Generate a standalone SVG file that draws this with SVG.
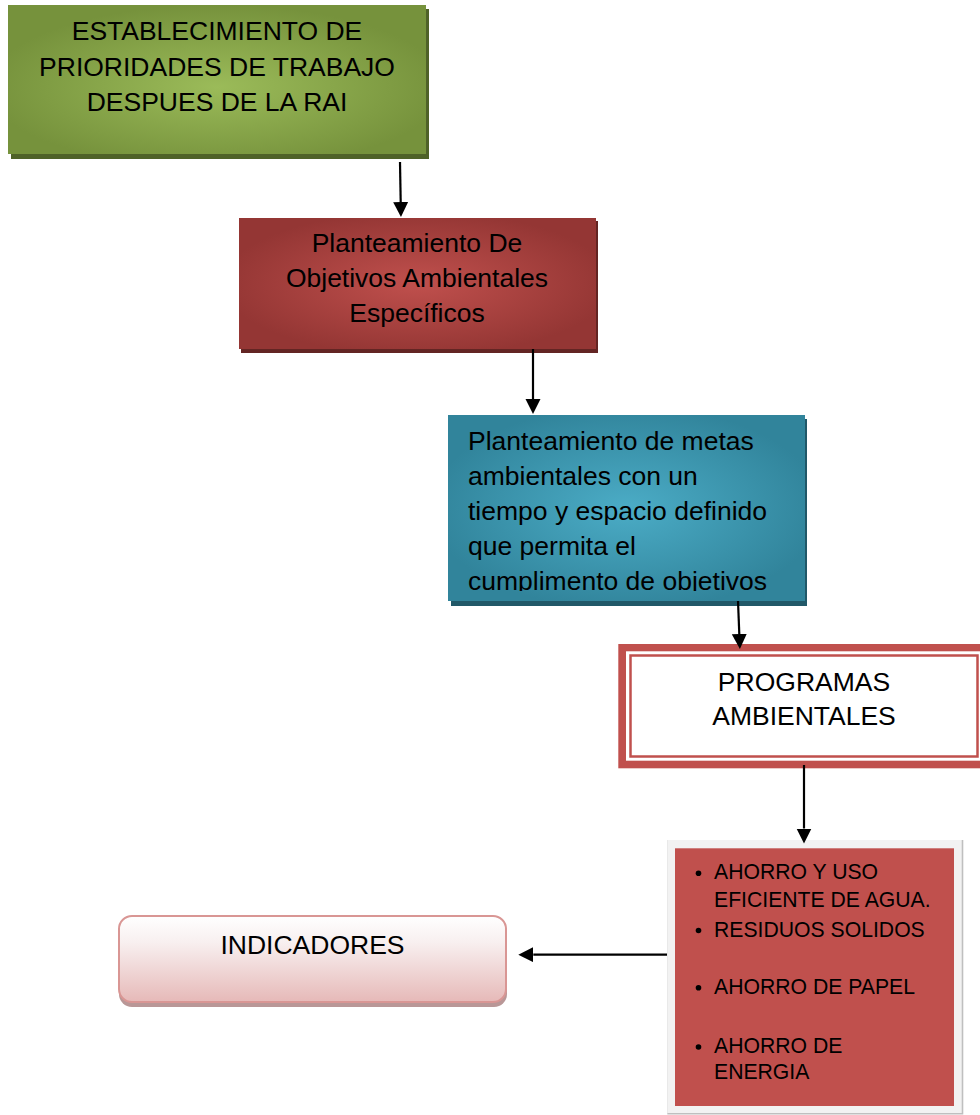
<svg xmlns="http://www.w3.org/2000/svg" width="980" height="1115" viewBox="0 0 980 1115">
  <style>
    .t { font-family: "Liberation Sans", Arial, sans-serif; font-size: 26.5px; fill: #000; }
    .tc { text-anchor: middle; }
    .b { font-family: "Liberation Sans", Arial, sans-serif; font-size: 21.2px; fill: #000; }
    .conn { stroke: #000; stroke-width: 2.2; fill: none; marker-end: url(#ah); }
  </style>
  <defs>
    <marker id="ah" markerUnits="userSpaceOnUse" markerWidth="16" markerHeight="16" refX="0" refY="7.5" orient="auto">
      <path d="M0,0 L15,7.5 L0,15 Z" fill="#000"/>
    </marker>
    <radialGradient id="gGreen" cx="0.5" cy="0.55" r="0.55">
      <stop offset="0" stop-color="#9BBB59"/>
      <stop offset="1" stop-color="#76923C"/>
    </radialGradient>
    <radialGradient id="gRed" cx="0.5" cy="0.5" r="0.55">
      <stop offset="0" stop-color="#C0504D"/>
      <stop offset="1" stop-color="#943634"/>
    </radialGradient>
    <radialGradient id="gBlue" cx="0.5" cy="0.5" r="0.55">
      <stop offset="0" stop-color="#4BACC6"/>
      <stop offset="1" stop-color="#31849B"/>
    </radialGradient>
    <linearGradient id="gPink" x1="0" y1="0" x2="0" y2="1">
      <stop offset="0" stop-color="#FFFFFF"/>
      <stop offset="0.3" stop-color="#F8F0F0"/>
      <stop offset="1" stop-color="#E6B9B8"/>
    </linearGradient>
    <clipPath id="clipBlue">
      <rect x="448" y="415" width="357" height="176"/>
    </clipPath>
  </defs>

  <g id="node-establecimiento">
    <rect x="11" y="9" width="418" height="150" fill="#4F6228"/>
    <rect x="8" y="5" width="418" height="149" fill="url(#gGreen)"/>
    <text class="t tc" x="217" y="40">ESTABLECIMIENTO DE</text>
    <text class="t tc" x="217" y="76">PRIORIDADES DE TRABAJO</text>
    <text class="t tc" x="217" y="111">DESPUES DE LA RAI</text>
  </g>

  <g id="node-objetivos">
    <rect x="241" y="221" width="357" height="132" fill="#632523"/>
    <rect x="239" y="218" width="357" height="131" fill="url(#gRed)"/>
    <text class="t tc" x="417" y="252">Planteamiento De</text>
    <text class="t tc" x="417" y="287">Objetivos Ambientales</text>
    <text class="t tc" x="417" y="322">Específicos</text>
  </g>

  <g id="node-metas">
    <rect x="451" y="419" width="356" height="187" fill="#215868"/>
    <rect x="448" y="415" width="357" height="186" fill="url(#gBlue)"/>
    <g clip-path="url(#clipBlue)">
      <text class="t" x="468" y="450">Planteamiento de metas</text>
      <text class="t" x="468" y="485">ambientales con un</text>
      <text class="t" x="468" y="520">tiempo y espacio definido</text>
      <text class="t" x="468" y="555">que permita el</text>
      <text class="t" x="468" y="589.5">cumplimento de objetivos</text>
    </g>
  </g>

  <g id="node-programas">
    <rect x="618.3" y="644" width="380" height="124.3" fill="#C0504D"/>
    <rect x="626" y="651.3" width="365" height="109.4" fill="#FFFFFF"/>
    <rect x="630.5" y="655.5" width="347" height="101" fill="none" stroke="#C0504D" stroke-width="2.5"/>
    <text class="t tc" x="804" y="690.7">PROGRAMAS</text>
    <text class="t tc" x="804" y="725.3">AMBIENTALES</text>
  </g>

  <g id="node-lista">
    <rect x="667.3" y="840" width="296" height="274.5" fill="#BFBFBF"/>
    <rect x="667.3" y="840" width="294.4" height="273" fill="#F2F2F2"/>
    <rect x="675" y="848.3" width="279" height="257.7" fill="#C0504D"/>
    <circle cx="698.5" cy="873.3" r="2.8" fill="#000"/>
    <text class="b" x="714" y="879.3">AHORRO Y USO</text>
    <text class="b" x="714" y="907.3">EFICIENTE DE AGUA.</text>
    <circle cx="698.5" cy="930.5" r="2.8" fill="#000"/>
    <text class="b" x="714" y="936.7">RESIDUOS SOLIDOS</text>
    <circle cx="698.5" cy="987.8" r="2.8" fill="#000"/>
    <text class="b" x="714" y="994">AHORRO DE PAPEL</text>
    <circle cx="698.5" cy="1047" r="2.8" fill="#000"/>
    <text class="b" x="714" y="1053.3">AHORRO DE</text>
    <text class="b" x="714" y="1079.3">ENERGIA</text>
  </g>

  <g id="node-indicadores">
    <rect x="119" y="919" width="388" height="88" rx="13" fill="#B99797"/>
    <rect x="119" y="916" width="387" height="86" rx="13" fill="url(#gPink)" stroke="#D99694" stroke-width="2"/>
    <text class="t tc" x="312.5" y="954">INDICADORES</text>
  </g>

  <g id="connectors">
    <line class="conn" x1="400" y1="162" x2="400.7" y2="202"/>
    <line class="conn" x1="533" y1="349" x2="533" y2="399"/>
    <line class="conn" x1="738" y1="601" x2="739.3" y2="634"/>
    <line class="conn" x1="804" y1="765" x2="804" y2="828.5"/>
    <line class="conn" x1="667" y1="954.7" x2="533.3" y2="954.7"/>
  </g>
</svg>
